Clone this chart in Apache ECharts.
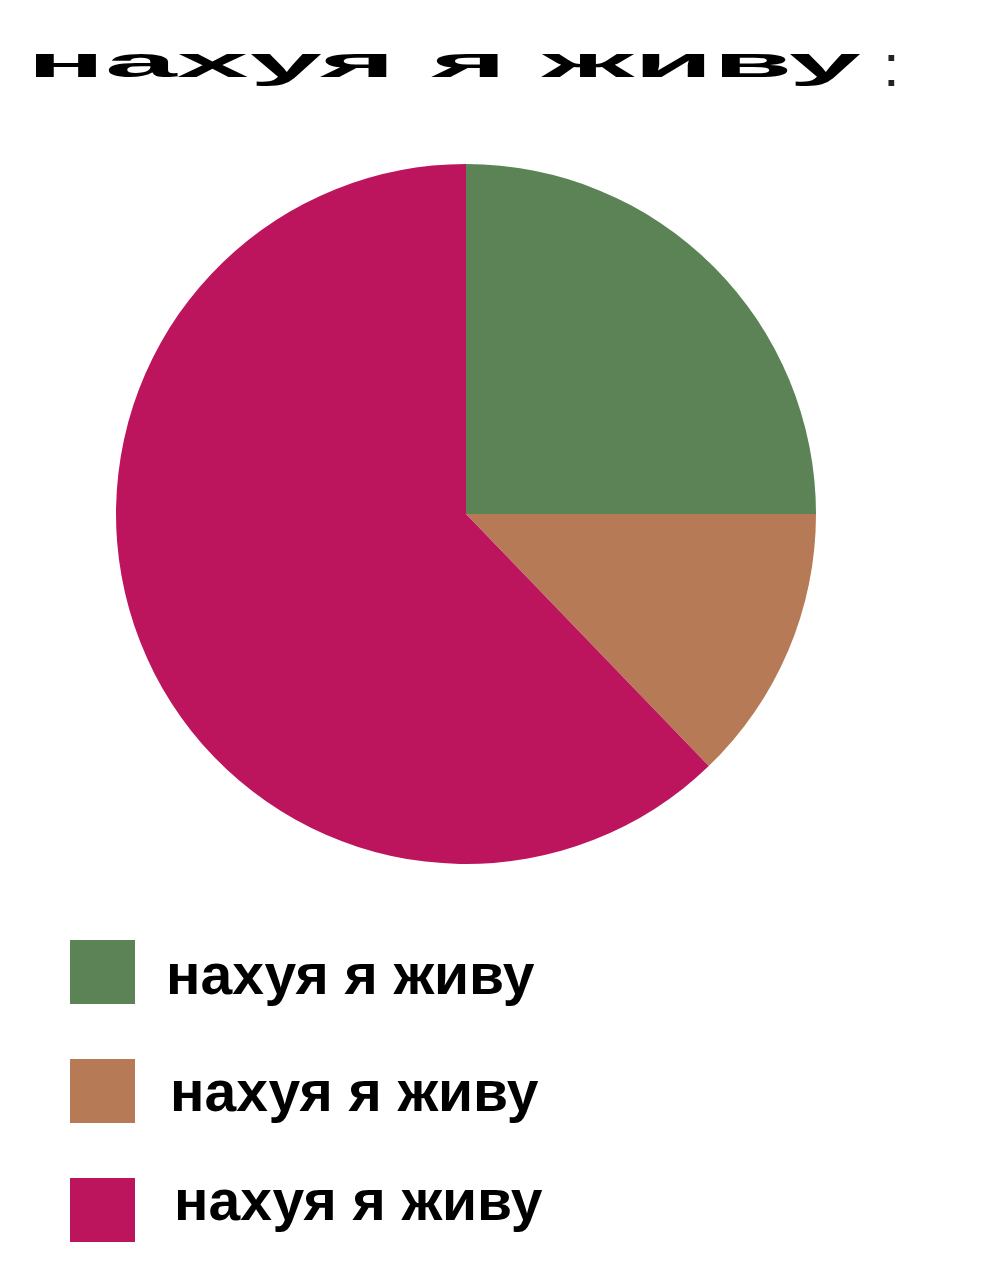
<!DOCTYPE html>
<html>
<head>
<meta charset="utf-8">
<script src="https://cdn.jsdelivr.net/npm/echarts@6/dist/echarts.min.js"></script>
<style>
html, body { margin: 0; padding: 0; background: #fff; }
#chart { width: 1008px; height: 1280px; }
</style>
</head>
<body>
<div id="chart"></div>
<script>
// chart data
let titleText = 'нахуя я живу';
let sliceIds = ['a', 'b', 'c'];
let sliceLabels = ['нахуя я живу', 'нахуя я живу', 'нахуя я живу'];
let sliceValues = [25, 12.8, 62.2];
let sliceColors = ['#5b8356', '#b77a56', '#bd155d'];

var myChart = echarts.init(document.getElementById('chart'), null, { width: 1008, height: 1280 });

let pieData = sliceIds.map(function (id, i) {
	return { name: id, value: sliceValues[i], itemStyle: { color: sliceColors[i] } };
});

// the legend rows in the picture sit a bit unevenly, nudge each one
let legendFont = {
	fontFamily: '"Liberation Sans", Arial, sans-serif',
	fontWeight: 'bold',
	fontSize: 57,
	color: '#000'
};
let rowPad = [[13, 0, 0, 26], [8, 0, 0, 30], [0, 0, 12, 34]];
let richRows = {};
rowPad.forEach(function (p, i) {
	richRows['r' + i] = Object.assign({ padding: p }, legendFont);
});

var option = {
	backgroundColor: '#ffffff',
	animation: false,
	graphic: [
		{
			// stretched title, like the original
			type: 'text',
			x: 27,
			y: 44,
			scaleX: 3.0,
			style: {
				text: titleText,
				font: '900 43px "Liberation Sans", Arial, sans-serif',
				fill: '#000'
			}
		},
		{
			type: 'text',
			x: 883,
			y: 39,
			style: {
				text: ':',
				font: 'normal 60px "Liberation Sans", Arial, sans-serif',
				fill: '#222'
			}
		}
	],
	legend: {
		orient: 'vertical',
		left: 65,
		top: 935,
		itemWidth: 65,
		itemHeight: 64,
		itemGap: 52,
		icon: 'rect',
		selectedMode: false,
		data: sliceIds,
		formatter: function (name) {
			let i = sliceIds.indexOf(name);
			return '{r' + i + '|' + sliceLabels[i] + '}';
		},
		textStyle: Object.assign({ rich: richRows }, legendFont)
	},
	series: [{
		type: 'pie',
		center: [466, 514],
		radius: 350,
		startAngle: 90,
		clockwise: true,
		label: { show: false },
		labelLine: { show: false },
		emphasis: { disabled: true },
		itemStyle: { borderWidth: 0 },
		data: pieData
	}]
};

myChart.setOption(option);
</script>
</body>
</html>
